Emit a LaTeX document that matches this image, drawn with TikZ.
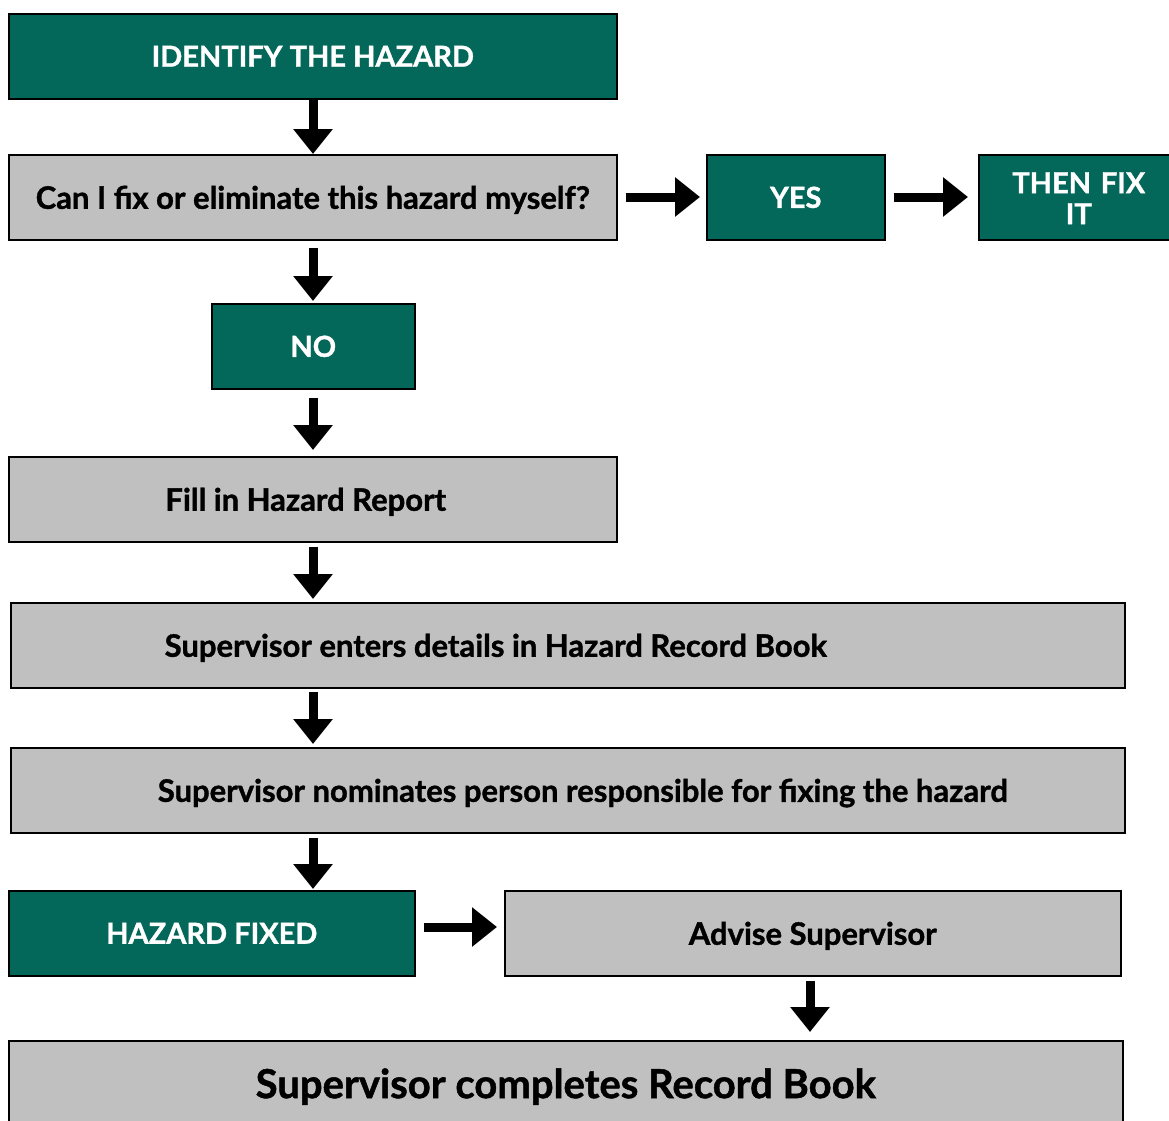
\documentclass[tikz,border=0pt]{standalone}
\usepackage{fontspec}
\setmainfont{Lato}[BoldFeatures={FakeBold=1.2}]
\usetikzlibrary{arrows.meta}
\definecolor{hgreen}{HTML}{03675A}
\definecolor{hgray}{HTML}{C0C0C0}
\tikzset{
  base/.style={draw=black, line width=1.5pt, anchor=north west, minimum height=85pt, inner sep=0pt, align=center, text depth=0pt},
  greenbox/.style={base, fill=hgreen, text=white, font=\bfseries\fontsize{29}{31}\selectfont},
  graybox/.style={base, fill=hgray, text=black, font=\bfseries\fontsize{31}{33}\selectfont},
  flow/.style={line width=9pt, -{Triangle[width=38pt,length=25pt]}},
}
\begin{document}
\begin{tikzpicture}[x=1pt,y=-1pt]
\useasboundingbox (0,0) rectangle (1169,1120);
\node[greenbox, minimum width=608pt] (identify) at (8,13) {IDENTIFY THE HAZARD};
\node[graybox, minimum width=608pt] (canfix) at (8,154) {Can I fix or eliminate this hazard myself?};
\node[greenbox, minimum width=178pt] (yes) at (706,154) {YES};
\node[greenbox, minimum width=200pt, text width=200pt, text depth=29pt] (fixit) at (978,154) {THEN FIX\\IT};
\node[greenbox, minimum width=203pt] (no) at (211,303) {NO};
\node[graybox, minimum width=608pt] (report) at (8,456) {\hspace*{-14pt}Fill in Hazard Report};
\node[graybox, minimum width=1114pt] (enters) at (10,602) {\hspace*{-144pt}Supervisor enters details in Hazard Record Book};
\node[graybox, minimum width=1114pt] (nominates) at (10,747) {\hspace*{30pt}Supervisor nominates person responsible for fixing the hazard};
\node[greenbox, minimum width=406pt] (fixed) at (8,890) {HAZARD FIXED};
\node[graybox, minimum width=616pt] (advise) at (504,890) {Advise Supervisor};
\node[graybox, minimum width=1114pt, font=\bfseries\fontsize{40}{42}\selectfont] (complete) at (8,1040) {Supervisor completes Record Book};

\draw[flow] (identify.south -| 313,0) -- (canfix.north -| 313,0);
\draw[flow, shorten <=7pt, shorten >=2pt] (canfix.south -| 313,0) -- (no.north -| 313,0);
\draw[flow, shorten <=8pt, shorten >=6pt] (no.south -| 313,0) -- (report.north -| 313,0);
\draw[flow, shorten <=4pt, shorten >=3pt] (report.south -| 313,0) -- (enters.north -| 313,0);
\draw[flow, shorten <=3pt, shorten >=3pt] (enters.south -| 313,0) -- (nominates.north -| 313,0);
\draw[flow, shorten <=4pt, shorten >=1pt] (nominates.south -| 313,0) -- (fixed.north -| 313,0);
\draw[flow, shorten <=4pt, shorten >=8pt] (advise.south -| 810,0) -- (complete.north -| 810,0);
\draw[flow, shorten <=8pt, shorten >=6pt] (canfix.east |- 0,197) -- (yes.west |- 0,197);
\draw[flow, shorten <=8pt, shorten >=10pt] (yes.east |- 0,197) -- (fixit.west |- 0,197);
\draw[flow, shorten <=8pt, shorten >=7pt] (fixed.east |- 0,927) -- (advise.west |- 0,927);
\end{tikzpicture}
\end{document}
